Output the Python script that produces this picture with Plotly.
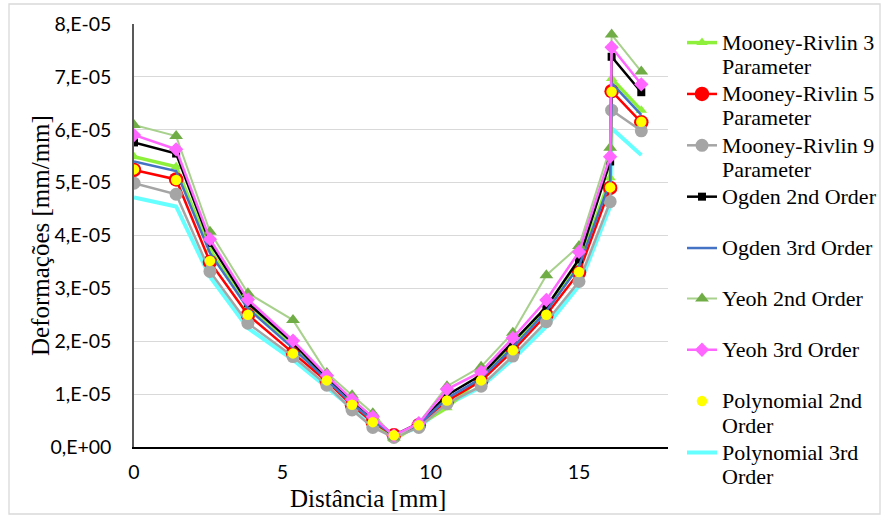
import plotly.graph_objects as go

# ---------------- data (values in units of 1e-5 mm/mm) ----------------
distance = [0, 1.42, 2.56, 3.84, 5.36, 6.5, 7.35, 8.05, 8.76, 9.6, 10.55, 11.7,
            12.77, 13.9, 15.0, 16.05, 16.1, 17.1]

mooney_rivlin_3 = [5.49, 5.30, 3.73, 2.65, 1.90, 1.28, 0.83, 0.50, 0.14, 0.42, 0.74, 1.32,
                   1.92, 2.60, 3.45, 5.09, 6.97, 6.37]
mooney_rivlin_5 = [5.24, 5.06, 3.50, 2.50, 1.78, 1.24, 0.79, 0.47, 0.22, 0.41, 0.87, 1.25,
                   1.82, 2.50, 3.30, 4.90, 6.73, 6.14]
mooney_rivlin_9 = [4.99, 4.78, 3.32, 2.34, 1.71, 1.17, 0.70, 0.37, 0.18, 0.37, 0.82, 1.15,
                   1.72, 2.37, 3.13, 4.64, 6.37, 5.98]
ogden_2 = [5.76, 5.55, 3.86, 2.72, 1.97, 1.31, 0.88, 0.55, 0.22, 0.45, 0.98, 1.36,
           1.98, 2.65, 3.55, 5.40, 7.38, 6.71]
ogden_3 = [5.40, 5.22, 3.67, 2.62, 1.87, 1.27, 0.82, 0.50, 0.22, 0.42, 0.92, 1.30,
           1.88, 2.57, 3.42, 5.02, 6.88, 6.28]
yeoh_2 = [6.09, 5.88, 4.07, 2.91, 2.40, 1.40, 0.98, 0.64, 0.18, 0.45, 1.15, 1.52,
          2.16, 3.25, 3.80, 5.66, 7.80, 7.10]
yeoh_3 = [5.90, 5.63, 3.93, 2.79, 2.01, 1.35, 0.90, 0.57, 0.22, 0.45, 1.09, 1.42,
          2.06, 2.78, 3.69, 5.49, 7.56, 6.86]
polynomial_2 = [5.25, 5.05, 3.52, 2.50, 1.77, 1.26, 0.80, 0.47, 0.22, 0.41, 0.88, 1.26,
                1.83, 2.50, 3.31, 4.91, 6.72, 6.15]
polynomial_3 = [4.72, 4.55, 3.22, 2.25, 1.65, 1.13, 0.72, 0.42, 0.20, 0.38, 0.80, 1.14,
                1.66, 2.28, 3.05, 4.55, 6.03, 5.52]

y_tick_values = [0, 1e-5, 2e-5, 3e-5, 4e-5, 5e-5, 6e-5, 7e-5, 8e-5]
y_tick_labels = ["0,E+00", "1,E-05", "2,E-05", "3,E-05", "4,E-05",
                 "5,E-05", "6,E-05", "7,E-05", "8,E-05"]
x_tick_values = [0, 5, 10, 15]
x_tick_labels = ["0", "5", "10", "15"]

legend_lines = {
    "mr3": ["Mooney-Rivlin 3", "Parameter"],
    "mr5": ["Mooney-Rivlin 5", "Parameter"],
    "mr9": ["Mooney-Rivlin 9", "Parameter"],
    "og2": ["Ogden 2nd Order", " "],
    "og3": ["Ogden 3rd Order", " "],
    "ye2": ["Yeoh 2nd Order", " "],
    "ye3": ["Yeoh 3rd Order", " "],
    "po2": ["Polynomial 2nd", "Order"],
    "po3": ["Polynomial 3rd", "Order"],
}

SCALE = 1e-5

def sc(vals):
    return [v * SCALE for v in vals]

def lname(key):
    return "<br>".join('<span style="font-size:22px">%s</span>' % t for t in legend_lines[key])

# ---------------- layout geometry (pixels) ----------------
W, H = 883, 517
L, R, T, B = 134, 668, 24, 447
pw, ph = R - L, B - T

def px_x(p):
    return (p - L) / pw

def px_y(p):
    return (B - p) / ph

SERIF = "Liberation Serif"
SANS = "Lato"
LEG_FONT = 18.6
ENTRY_H = 2 * LEG_FONT * 1.3 + 3

fig = go.Figure()

# drawing order (bottom to top); legend order via legendrank; entries split in two stacked legends
series = [
    dict(key="po3", y=polynomial_3, rank=9, leg="legend2", mode="lines",
         line=dict(color="#66FFFF", width=4), marker=None),
    dict(key="mr3", y=mooney_rivlin_3, rank=1, leg="legend", mode="lines+markers",
         line=dict(color="#8FF03C", width=3.5),
         marker=dict(symbol="triangle-up", size=10, color="#8FF03C")),
    dict(key="mr5", y=mooney_rivlin_5, rank=2, leg="legend", mode="lines+markers",
         line=dict(color="#FF0000", width=2.5),
         marker=dict(symbol="circle", size=14.5, color="#FF0000")),
    dict(key="mr9", y=mooney_rivlin_9, rank=3, leg="legend", mode="lines+markers",
         line=dict(color="#A5A5A5", width=2.5),
         marker=dict(symbol="circle", size=13, color="#A5A5A5")),
    dict(key="og2", y=ogden_2, rank=4, leg="legend", mode="lines+markers",
         line=dict(color="#000000", width=2.5),
         marker=dict(symbol="square", size=8, color="#000000")),
    dict(key="og3", y=ogden_3, rank=5, leg="legend", mode="lines",
         line=dict(color="#4472C4", width=2.5), marker=None),
    dict(key="ye2", y=yeoh_2, rank=6, leg="legend2", mode="lines+markers",
         line=dict(color="#A9D18E", width=2),
         marker=dict(symbol="triangle-up", size=12, color="#70AD47")),
    dict(key="ye3", y=yeoh_3, rank=7, leg="legend2", mode="lines+markers",
         line=dict(color="#FF66FF", width=2.5),
         marker=dict(symbol="diamond", size=11, color="#FF66FF")),
    dict(key="po2", y=polynomial_2, rank=8, leg="legend2", mode="markers",
         line=None, marker=dict(symbol="circle", size=10.5, color="#FFFF00")),
]

for s in series:
    kw = dict(x=distance, y=sc(s["y"]), name=lname(s["key"]), mode=s["mode"],
              legendrank=s["rank"], legend=s["leg"], hoverinfo="x+y")
    if s["line"] is not None:
        kw["line"] = s["line"]
    if s["marker"] is not None:
        kw["marker"] = s["marker"]
    fig.add_trace(go.Scatter(**kw))

legend_common = dict(
    xanchor="left", yanchor="top",
    font=dict(family=SERIF, size=LEG_FONT, color="#000000"),
    bgcolor="rgba(0,0,0,0)", borderwidth=0, valign="top",
    traceorder="normal", itemwidth=30, tracegroupgap=0,
)

fig.update_layout(
    width=W, height=H,
    margin=dict(l=L, r=W - R, t=T, b=H - B, pad=0, autoexpand=False),
    paper_bgcolor="white", plot_bgcolor="white",
    showlegend=True,
    legend=dict(x=px_x(682), y=1, **legend_common),
    legend2=dict(x=px_x(682), y=px_y(T + 5 * ENTRY_H - 1), **legend_common),
    xaxis=dict(
        range=[0, 18], tickvals=x_tick_values, ticktext=x_tick_labels,
        showgrid=False, zeroline=False, showline=True, linecolor="#000000", linewidth=2,
        ticks="", ticklabelstandoff=7,
        tickfont=dict(family=SANS, size=19.5, color="#000000"),
    ),
    yaxis=dict(
        range=[0, 8e-5], tickvals=y_tick_values, ticktext=y_tick_labels,
        showgrid=True, gridcolor="#D9D9D9", gridwidth=1.3, zeroline=False,
        showline=True, linecolor="#595959", linewidth=1.5,
        ticks="", ticklabelstandoff=17,
        tickfont=dict(family=SANS, size=19.5, color="#000000"),
    ),
    annotations=[
        dict(text="Distância [mm]", xref="paper", yref="paper",
             x=px_x(368), y=px_y(498), xanchor="center", yanchor="middle",
             showarrow=False, font=dict(family=SERIF, size=25, color="#000000")),
        dict(text="Deformações [mm/mm]", xref="paper", yref="paper",
             x=px_x(40), y=px_y(235), xanchor="center", yanchor="middle", textangle=-90,
             showarrow=False, font=dict(family=SERIF, size=25, color="#000000")),
    ],
    shapes=[
        dict(type="rect", xref="paper", yref="paper",
             x0=px_x(9), x1=px_x(880), y0=px_y(514), y1=px_y(4),
             line=dict(color="#D9D9D9", width=1.3), fillcolor="rgba(0,0,0,0)", layer="below"),
    ],
)

fig.write_html("out.html")
